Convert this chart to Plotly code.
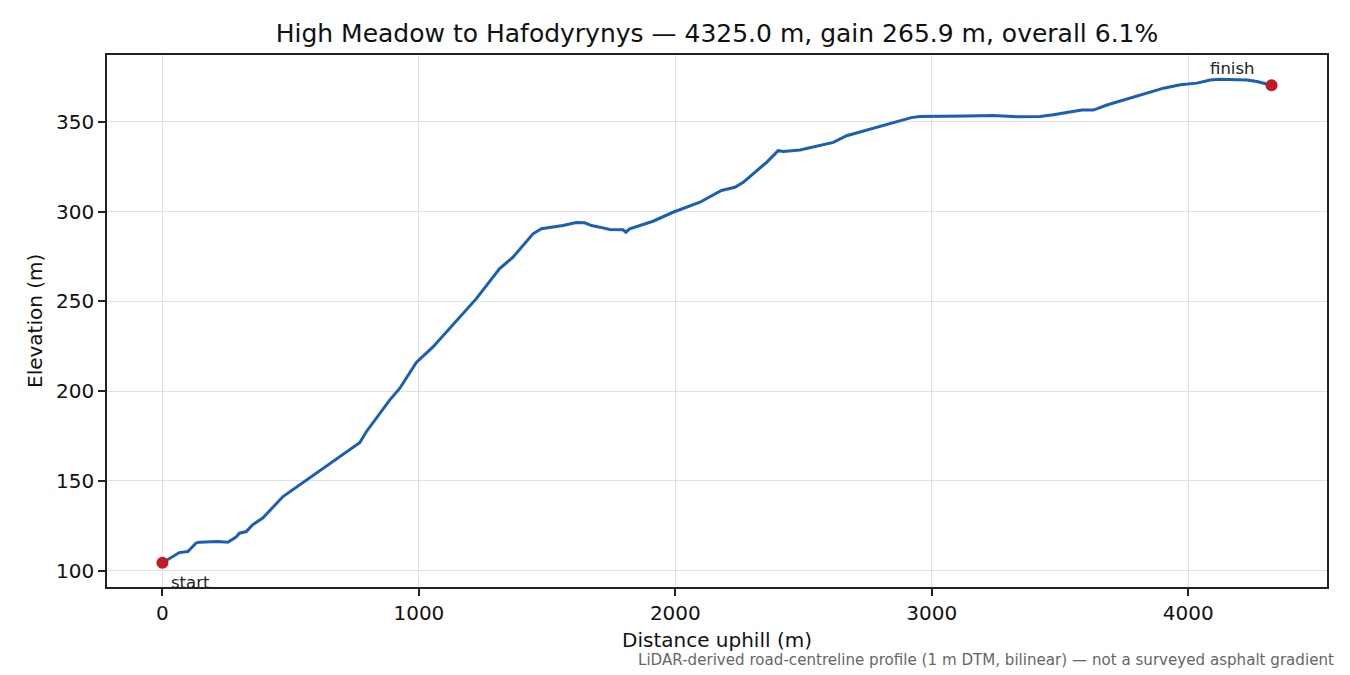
import plotly.graph_objects as go

# Distance along the climb (m) and elevation (m)
distance_m = [0, 66, 99, 131, 144, 216, 255, 287, 300, 327, 352, 391, 470, 535, 665, 769, 795,
              886, 925, 960, 990, 1055, 1159, 1224, 1315, 1367, 1445, 1465, 1478, 1562, 1614, 1647, 1673,
              1705, 1744, 1796, 1807, 1822, 1913, 1991, 2044, 2096, 2180, 2232, 2265, 2310, 2356,
              2401, 2421, 2486, 2616, 2668, 2746, 2876, 2920, 2954, 3006, 3071, 3136, 3240, 3331, 3422,
              3474, 3585, 3630, 3683, 3787, 3904, 3969, 4034, 4086, 4125, 4229, 4268, 4325]
elevation_m = [104.4, 110.1, 110.7, 115.4, 115.9, 116.3, 115.9, 118.7, 120.9, 121.8, 125.6, 129.3,
               141.3, 147.8, 160.7, 171.3, 177.4, 195.0, 201.5, 209.5, 216.0, 224.6, 241.3, 251.5, 268.2,
               274.6, 287.6, 289.6, 290.4, 292.2, 293.9, 293.7, 292.2, 291.3, 290.0, 289.8, 288.5, 290.4,
               294.6, 299.6, 302.4, 305.2, 311.7, 313.5, 316.3, 321.8, 327.4, 333.9, 333.5, 334.3,
               338.5, 342.2, 345.4, 350.9, 352.3, 352.9, 352.9, 352.8, 353.2, 353.5, 352.8, 352.9, 353.9,
               356.5, 356.5, 359.3, 363.9, 368.7, 370.6, 371.5, 373.2, 373.7, 373.2, 372.4, 370.3]

x_ticks = [0, 1000, 2000, 3000, 4000]
y_ticks = [100, 150, 200, 250, 300, 350]

title_text = "High Meadow to Hafodyrynys — 4325.0 m, gain 265.9 m, overall 6.1%"
x_label = "Distance uphill (m)"
y_label = "Elevation (m)"
footnote = "LiDAR-derived road-centreline profile (1 m DTM, bilinear) — not a surveyed asphalt gradient"

FONT = "DejaVu Sans"
LINE_BLUE = "#1a5fb4"
DOT_RED = "#c01c28"

fig = go.Figure()
fig.add_trace(go.Scatter(x=distance_m, y=elevation_m, mode="lines",
                         line=dict(color=LINE_BLUE, width=3), hoverinfo="skip", showlegend=False))
fig.add_trace(go.Scatter(x=[distance_m[0], distance_m[-1]], y=[elevation_m[0], elevation_m[-1]],
                         mode="markers", marker=dict(color=DOT_RED, size=12),
                         hoverinfo="skip", showlegend=False))

xmin, xmax = min(distance_m), max(distance_m)
ymin, ymax = min(elevation_m), max(elevation_m)
xpad = 0.05 * (xmax - xmin)
ypad = 0.05 * (ymax - ymin)

axis_common = dict(showline=True, linecolor="#222222", linewidth=1.6, mirror=True,
                   ticks="outside", ticklen=7, tickwidth=1.6, tickcolor="#222222",
                   showgrid=True, gridcolor="#e0e0e0", gridwidth=1.2, zeroline=False,
                   tickfont=dict(family=FONT, size=20, color="#111111"))

fig.update_xaxes(range=[xmin - xpad, xmax + xpad], tickvals=x_ticks, **axis_common)
fig.update_yaxes(range=[ymin - ypad, ymax + ypad], tickvals=y_ticks, **axis_common)

fig.update_layout(
    width=1350, height=675,
    margin=dict(l=107, r=23, t=55, b=88),
    plot_bgcolor="white", paper_bgcolor="white",
    font=dict(family=FONT),
    title=dict(text=title_text, x=0.5311, xanchor="center", y=1 - 33 / 675, yanchor="middle",
               font=dict(family=FONT, size=25, color="#111111")),
    annotations=[
        dict(text=x_label, xref="paper", yref="paper", x=0.5, y=-(640 - 587) / 532,
             xanchor="center", yanchor="middle", showarrow=False,
             font=dict(family=FONT, size=20, color="#111111")),
        dict(text=y_label, xref="paper", yref="paper", x=-(107 - 35) / 1220, y=0.5,
             xanchor="center", yanchor="middle", textangle=-90, showarrow=False,
             font=dict(family=FONT, size=20, color="#111111")),
        dict(text=footnote, xref="paper", yref="paper", x=(1336 - 107) / 1220, y=-(660 - 587) / 532,
             xanchor="right", yanchor="middle", showarrow=False,
             font=dict(family=FONT, size=15.1, color="#666666")),
        dict(text="start", x=distance_m[0], y=elevation_m[0], xref="x", yref="y",
             xanchor="left", yanchor="middle", xshift=7, yshift=-20, showarrow=False,
             font=dict(family=FONT, size=16.5, color="#222222")),
        dict(text="finish", x=distance_m[-1], y=elevation_m[-1], xref="x", yref="y",
             xanchor="right", yanchor="middle", xshift=-15, yshift=17, showarrow=False,
             font=dict(family=FONT, size=16.5, color="#222222")),
    ],
)

fig.write_html("out.html", config={"displayModeBar": False},
               post_script="document.body.style.margin='0px';document.body.style.overflow='hidden';")
